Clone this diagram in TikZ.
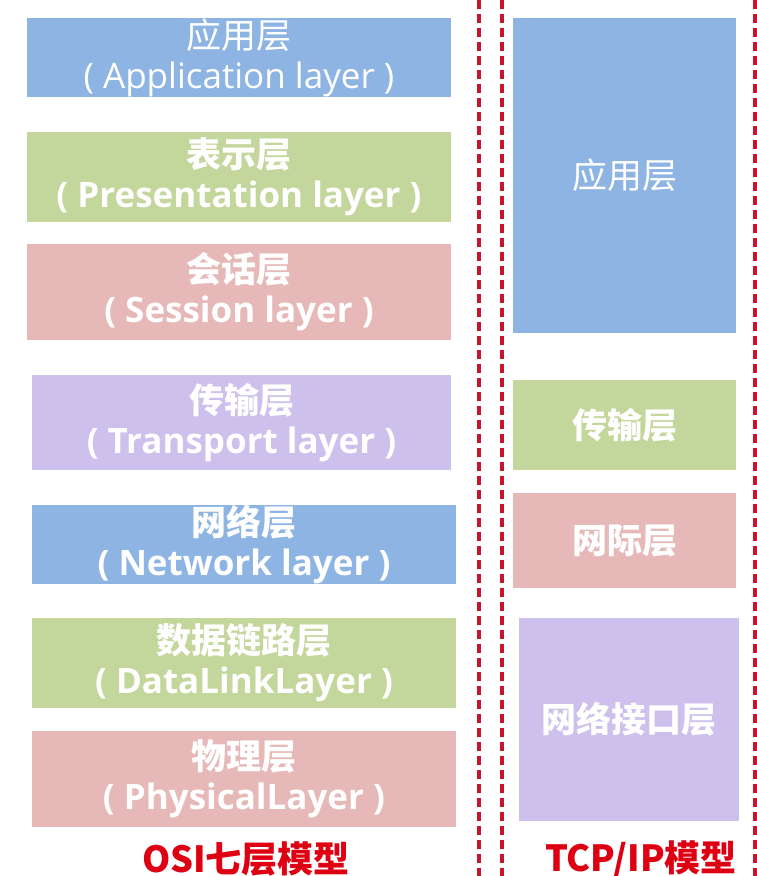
\documentclass[tikz,border=0pt]{standalone}
\usepackage{fontspec}
\setmainfont{Open Sans}
\newfontfamily\zh{Noto Sans CJK SC}
\usetikzlibrary{positioning}

\definecolor{layerblue}{RGB}{142,180,227}
\definecolor{layergreen}{RGB}{195,214,155}
\definecolor{layerpink}{RGB}{230,185,184}
\definecolor{layerpurple}{RGB}{205,192,236}
\definecolor{sepred}{RGB}{200,20,45}
\definecolor{titlered}{RGB}{222,0,18}

\begin{document}
\begin{tikzpicture}[
    x = 1pt, y = -1pt, %
    every node/.style = {inner sep = 0pt, outer sep = 0pt}, %
    ]

    \tikzset{layer/.style={
    anchor = north west,
    text = white,
    align = center,
    font = \bfseries\fontsize{35}{40}\selectfont
    }}
    \tikzset{thin layer/.style={
    layer,
    font = \fontsize{35}{40}\selectfont
    }}
    \tikzset{modeltitle/.style={
    text = titlered,
    font = \zh\bfseries\fontsize{36}{40}\selectfont
    }}
    \tikzset{sepline/.style={
    draw = sepred,
    line width = 3.5pt,
    dash pattern = on 9pt off 5pt
    }}

    \useasboundingbox[fill=white] (0,0) rectangle (757,876);

    % OSI
    \node[thin layer, fill=layerblue,   minimum width=424pt, minimum height=79pt] (osi7) at (27,18)  {{\zh 应用层}\\( Application layer )};
    \node[layer,      fill=layergreen,  minimum width=424pt, minimum height=90pt] (osi6) at (27,132) {{\zh 表示层}\\( Presentation layer )};
    \node[layer,      fill=layerpink,   minimum width=424pt, minimum height=96pt] (osi5) at (27,244) {{\zh 会话层}\\( Session layer )};
    \node[layer,      fill=layerpurple, minimum width=419pt, minimum height=95pt] (osi4) at (32,375) {{\zh 传输层}\\( Transport layer )};
    \node[layer,      fill=layerblue,   minimum width=424pt, minimum height=78pt] (osi3) at (32,505) {{\zh 网络层}\\( Network layer )};
    \node[layer,      fill=layergreen,  minimum width=424pt, minimum height=90pt] (osi2) at (32,618) {{\zh 数据链路层}\\( DataLinkLayer )};
    \node[layer,      fill=layerpink,   minimum width=424pt, minimum height=96pt] (osi1) at (32,731) {{\zh 物理层}\\( PhysicalLayer )};

    % TCP/IP
    \node[thin layer, fill=layerblue,   minimum width=223pt, minimum height=315pt] (tcp4) at (513,18)  {\zh 应用层};
    \node[layer,      fill=layergreen,  minimum width=223pt, minimum height=90pt]  (tcp3) at (513,380) {\zh 传输层};
    \node[layer,      fill=layerpink,   minimum width=223pt, minimum height=95pt]  (tcp2) at (513,493) {\zh 网际层};
    \node[layer,      fill=layerpurple, minimum width=220pt, minimum height=203pt] (tcp1) at (519,618) {\zh 网络接口层};

    \node[modeltitle] (osititle) at (246,859) {OSI七层模型};
    \node[modeltitle] (tcptitle) at (641,859) {TCP/IP模型};

    \foreach \x in {479,502,755}
    \draw[sepline] (\x,0) -- (\x,876);

\end{tikzpicture}
\end{document}
